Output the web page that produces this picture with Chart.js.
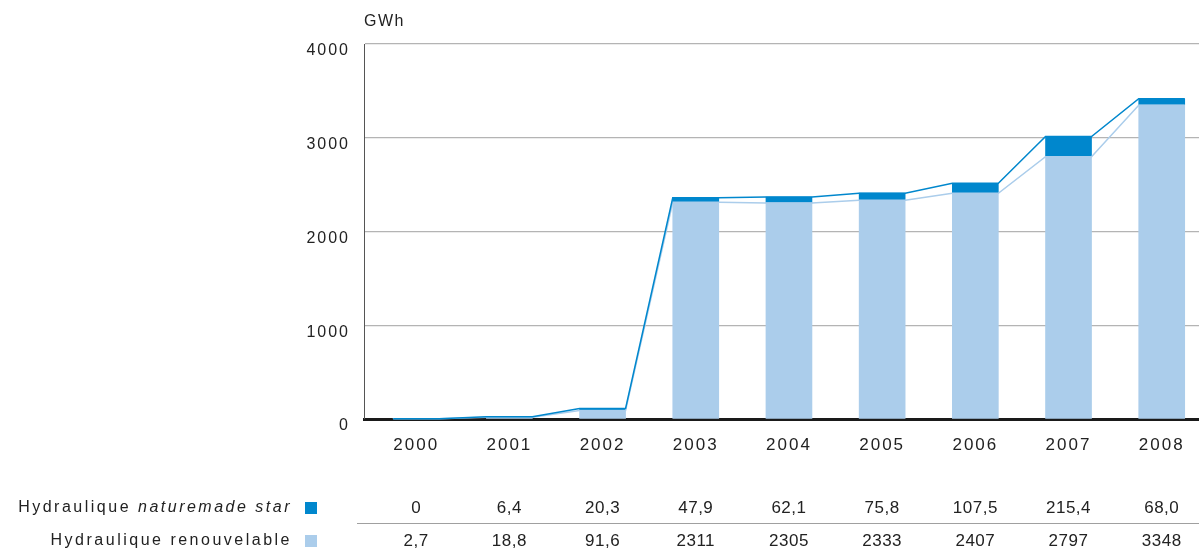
<!DOCTYPE html>
<html>
<head>
<meta charset="utf-8">
<script src="https://cdn.jsdelivr.net/npm/chart.js@4.4.1/dist/chart.umd.min.js"></script>
<style>
html,body{margin:0;padding:0;background:#fff;}
#wrap{width:1199px;height:555px;position:relative;}
</style>
</head>
<body>
<div id="wrap"><canvas id="c" width="1199" height="555"></canvas></div>
<script>
const years = ['2000','2001','2002','2003','2004','2005','2006','2007','2008'];
const renouvelable = [2.7, 18.8, 91.6, 2311, 2305, 2333, 2407, 2797, 3348];
const naturemade = [0, 6.4, 20.3, 47.9, 62.1, 75.8, 107.5, 215.4, 68.0];
const naturemadeLabels = ['0','6,4','20,3','47,9','62,1','75,8','107,5','215,4','68,0'];
const renouvelableLabels = ['2,7','18,8','91,6','2311','2305','2333','2407','2797','3348'];
const seriesNames = ['Hydraulique ', 'naturemade star', 'Hydraulique renouvelable'];
const yTicks = [0, 1000, 2000, 3000, 4000];
const unit = 'GWh';

const DARK = '#0087cd';
const LIGHT = '#abcdeb';
const TEXT = '#222222';
const FONT = '"Liberation Sans", Arial, sans-serif';

const toXY = arr => arr.map((v, i) => ({x: i, y: v}));

const decorPlugin = {
  id: 'decor',
  beforeDraw(chart) {
    chart.ctx.letterSpacing = '2px';
  },
  afterDatasetsDraw(chart) {
    const ctx = chart.ctx;
    const m0 = chart.getDatasetMeta(0).data;
    const m1 = chart.getDatasetMeta(1).data;
    const drawLine = (els, color, lw) => {
      ctx.save();
      ctx.strokeStyle = color;
      ctx.lineWidth = lw;
      ctx.lineJoin = 'miter';
      ctx.beginPath();
      els.forEach((e, i) => {
        const l = e.x - e.width / 2, r = e.x + e.width / 2;
        if (i === 0) ctx.moveTo(l, e.y); else ctx.lineTo(l, e.y);
        ctx.lineTo(r, e.y);
      });
      ctx.stroke();
      ctx.restore();
    };
    drawLine(m0, LIGHT, 1.5);
    drawLine(m1, DARK, 1.5);
  },
  afterDraw(chart) {
    const ctx = chart.ctx;
    const ca = chart.chartArea;
    const els = chart.getDatasetMeta(0).data;
    ctx.save();
    // unit
    ctx.letterSpacing = '1.5px';
    ctx.fillStyle = TEXT;
    ctx.font = '16px ' + FONT;
    ctx.textAlign = 'left';
    ctx.textBaseline = 'middle';
    ctx.fillText(unit, ca.left, 22);

    const row1 = 508, row2 = 541;
    // separator
    ctx.strokeStyle = '#a0a0a0';
    ctx.lineWidth = 1.2;
    ctx.beginPath();
    ctx.moveTo(357, 523.5);
    ctx.lineTo(chart.width, 523.5);
    ctx.stroke();

    // legend labels
    ctx.letterSpacing = '2.5px';
    ctx.textAlign = 'left';
    const f1 = '16px ' + FONT;
    const f1i = 'italic 16px ' + FONT;
    ctx.font = f1;
    const w1 = ctx.measureText(seriesNames[0]).width;
    ctx.font = f1i;
    const w2 = ctx.measureText(seriesNames[1]).width;
    const endX = 292;
    ctx.font = f1;
    ctx.fillText(seriesNames[0], endX - w1 - w2, row1);
    ctx.font = f1i;
    ctx.fillText(seriesNames[1], endX - w2, row1);
    ctx.font = f1;
    ctx.textAlign = 'right';
    ctx.fillText(seriesNames[2], endX, row2);
    ctx.fillStyle = DARK;
    ctx.fillRect(305, row1 - 6, 12, 12);
    ctx.fillStyle = LIGHT;
    ctx.fillRect(305, row2 - 6, 12, 12);

    // values
    ctx.letterSpacing = '0.5px';
    ctx.fillStyle = TEXT;
    ctx.textAlign = 'center';
    ctx.font = '17px ' + FONT;
    els.forEach((e, i) => {
      ctx.fillText(naturemadeLabels[i], e.x, row1);
      ctx.fillText(renouvelableLabels[i], e.x, row2);
    });
    ctx.restore();
  }
};

new Chart(document.getElementById('c'), {
  type: 'bar',
  data: {
    datasets: [
      {label: seriesNames[2], data: toXY(renouvelable), backgroundColor: LIGHT, barThickness: 46, borderWidth: 0},
      {label: seriesNames[0] + seriesNames[1], data: toXY(naturemade), backgroundColor: DARK, barThickness: 46, borderWidth: 0}
    ]
  },
  options: {
    responsive: false,
    animation: false,
    layout: {padding: {top: 44, right: 0, bottom: 0, left: 0}},
    plugins: {legend: {display: false}, tooltip: {enabled: false}},
    scales: {
      x: {
        type: 'linear',
        stacked: true,
        offset: false,
        min: -0.56,
        max: 8.4,
        grid: {display: false, drawTicks: false, offset: false},
        border: {display: true, color: '#1a1a1a', width: 3},
        afterFit(s) { s.height = 136; },
        ticks: {
          stepSize: 1,
          includeBounds: false,
          autoSkip: false,
          maxRotation: 0,
          padding: 16,
          color: TEXT,
          font: {family: FONT, size: 17},
          callback: v => (Number.isInteger(v) && years[v]) ? years[v] : ''
        }
      },
      y: {
        stacked: true,
        min: 0,
        max: 4000,
        afterFit(s) { s.width = 364; },
        afterBuildTicks(s) { s.ticks = yTicks.map(v => ({value: v})); },
        grid: {
          drawTicks: false,
          color: c => c.tick && c.tick.value === 0 ? 'rgba(0,0,0,0)' : '#b4b4b4',
          lineWidth: 1.2
        },
        border: {display: true, color: '#555555', width: 1},
        ticks: {
          padding: 14,
          labelOffset: 7,
          color: TEXT,
          font: {family: FONT, size: 16},
          callback: v => String(v)
        }
      }
    }
  },
  plugins: [decorPlugin]
});
</script>
</body>
</html>
